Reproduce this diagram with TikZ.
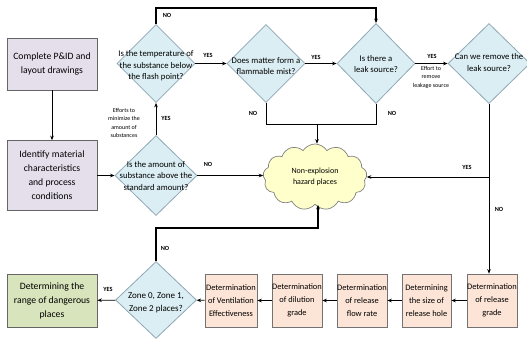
\documentclass[tikz,border=0pt]{standalone}
\usepackage{fontspec}
\setmainfont{Carlito}
\usetikzlibrary{shapes.geometric,shapes.symbols,arrows.meta,calc}
\definecolor{purpfill}{HTML}{E5DFEC}
\definecolor{diafill}{HTML}{DBEEF3}
\definecolor{diadraw}{HTML}{8FA6B4}
\definecolor{peach}{HTML}{FCE4D6}
\definecolor{greenfill}{HTML}{D8E4BC}
\definecolor{cloudfill}{HTML}{FFFFCC}
\begin{document}
\begin{tikzpicture}[x=1pt,y=-1pt,
  >={Stealth[length=4.5pt,width=3.6pt]},
  boxbase/.style={rectangle, draw=black!60, line width=0.7pt, align=center, inner sep=0pt},
  purpbox/.style={boxbase, fill=purpfill, minimum width=90pt, font=\fontsize{9.7}{14}\selectfont},
  greenbox/.style={boxbase, fill=greenfill, minimum width=90pt, minimum height=53pt, font=\fontsize{9.7}{14}\selectfont},
  peachbox/.style={boxbase, draw=black!55, fill=peach, minimum height=53pt, font=\fontsize{8.4}{13}\selectfont},
  dia/.style={diamond, draw=diadraw, line width=0.8pt, fill=diafill, inner sep=0pt},
  dtext/.style={align=center, inner sep=0pt, font=\fontsize{8.7}{11.5}\selectfont},
  conn/.style={draw, line width=0.8pt, ->},
  plain/.style={draw, line width=0.8pt},
  heavy/.style={line width=1.6pt},
  lab/.style={font=\bfseries\fontsize{6.3}{7}\selectfont, inner sep=0pt},
  note/.style={font=\fontsize{6}{8.5}\selectfont, align=center, inner sep=0pt}
]
\useasboundingbox (0,0) rectangle (527,338);

% left column
\node[purpbox, minimum height=52pt] (B1) at (52,64) {Complete P\&ID and\\layout drawings};
\node[purpbox, minimum height=70pt] (B2) at (52,175.5) {Identify material\\characteristics\\and process\\conditions};

% diamonds
\node[dia, minimum width=78pt, minimum height=78pt] (D1) at (156,63.5) {};
\node[dtext] (D1t) at (156,66) {Is the temperature of\\the substance below\\the flash point?};
\node[dia, minimum width=82pt, minimum height=80pt] (D0) at (156,175.5) {};
\node[dtext] (D0t) at (156,176) {Is the amount of\\substance above the\\standard amount?};
\node[dia, minimum width=78pt, minimum height=78pt] (D2) at (266,63.5) {};
\node[dtext] (D2t) at (266,66) {Does matter form a\\flammable mist?};
\node[dia, minimum width=78pt, minimum height=80pt] (D3) at (376,63.5) {};
\node[dtext] (D3t) at (376,64) {Is there a\\leak source?};
\node[dia, minimum width=82pt, minimum height=80pt] (D4) at (489,63.5) {};
\node[dtext] (D4t) at (489,62.5) {Can we remove the\\leak source?};

% cloud
\node[cloud, cloud puffs=13, cloud puff arc=115, aspect=1.6, draw=black!50, line width=0.7pt,
      fill=cloudfill, minimum width=104pt, minimum height=66pt, inner sep=0pt, align=center,
      font=\fontsize{8}{11}\selectfont] (C) at (315,177) {Non-explosion\\hazard places};

% bottom row
\node[peachbox, minimum width=50pt] (R1) at (492,300.5) {Determination\\of release\\grade};
\node[peachbox, minimum width=49pt] (R2) at (426.5,300.5) {Determining\\the size of\\release hole};
\node[peachbox, minimum width=50pt] (R3) at (362,300.5) {Determination\\of release\\flow rate};
\node[peachbox, minimum width=50pt] (R4) at (297,300.5) {Determination\\of dilution\\grade};
\node[peachbox, minimum width=52pt] (R5) at (231,300.5) {Determination\\of Ventilation\\Effectiveness};
\node[dia, minimum width=81pt, minimum height=77pt] (D5) at (156,300) {};
\node[dtext, font=\fontsize{9}{13}\selectfont] (D5t) at (156,303) {Zone 0, Zone 1,\\Zone 2 places?};
\node[greenbox] (G) at (52,300.5) {Determining the\\range of dangerous\\places};

% connectors
\draw[conn] (B1) -- (B2);
\draw[conn] (B2.east) -- (D0.west);
\draw[conn] (D0.north) -- (D1.south);
\draw[conn] (D1.east) -- (D2.west);
\draw[conn] (D2.east) -- (D3.west);
\draw[conn] (D3.east) -- (D4.west);

\coordinate (T) at (156,8);
\draw[conn, heavy] (D1.north) -- (T) -| (D3.north);

\coordinate (J) at (317,124);
\draw[plain] (D2.south) |- (J);
\draw[plain] (D3.south) |- (J);
\draw[conn] (J) -- (J |- C.north);

\draw[conn] (D0.east) -- (D0.east -| C.west);

\draw[conn] (D4.south) -- (D4.south |- R1.north);
\coordinate (Y) at (D4.south |- C.east);
\draw[conn] (Y) -- (C.east);

\draw[conn] (R1) -- (R2);
\draw[conn] (R2) -- (R3);
\draw[conn] (R3) -- (R4);
\draw[conn] (R4) -- (R5);
\draw[conn] (R5) -- (D5);
\draw[conn] (D5) -- (G);

\coordinate (L) at (156,228);
\draw[conn, heavy] (D5.north) -- (L) -| ($(C.south)+(3,0)$);

% labels
\node[lab] (l1) at (167,15) {NO};
\node[lab] (l2) at (208,55) {YES};
\node[lab] (l3) at (316,57) {YES};
\node[lab] (l4) at (432,56) {YES};
\node[note] (n1) at (431,77) {Effort to\\remove\\leakage source};
\node[lab] (l5) at (253,113) {NO};
\node[lab] (l6) at (392,113) {NO};
\node[lab] (l7) at (166,118) {YES};
\node[note] (n2) at (124,123) {Efforts to\\minimize the\\amount of\\substances};
\node[lab] (l8) at (208,164) {NO};
\node[lab] (l9) at (467,167) {YES};
\node[lab] (l10) at (499,209) {NO};
\node[lab] (l11) at (165,248) {NO};
\node[lab] (l12) at (108,289) {YES};
\end{tikzpicture}
\end{document}
